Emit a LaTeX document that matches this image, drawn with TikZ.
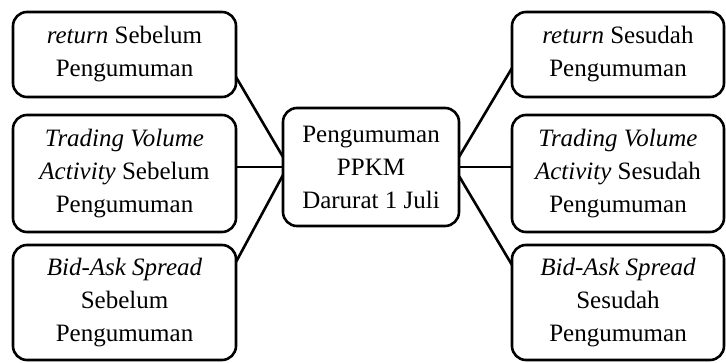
\documentclass[tikz,border=0pt]{standalone}
\usepackage{fontspec}
\setmainfont{Liberation Serif}
\usetikzlibrary{calc}
\begin{document}
\begin{tikzpicture}[x=1pt,y=-1pt,
  box/.style={draw=black, line width=2.6pt, rounded corners=14pt, align=center,
    inner sep=0pt, outer sep=0pt, font=\fontsize{25}{33}\selectfont},
  conn/.style={line width=2.6pt, draw=black}]
\useasboundingbox (0,0) rectangle (726,363);
\node[box, minimum width=223pt, minimum height=85pt] (L1) at (124.5,54.5) {\textit{return} Sebelum\\Pengumuman};
\node[box, minimum width=223pt, minimum height=117pt] (L2) at (124.5,173.5) {\textit{Trading Volume}\\\textit{Activity} Sebelum\\Pengumuman};
\node[box, minimum width=223pt, minimum height=115pt] (L3) at (124.5,302.5) {\textit{Bid-Ask Spread}\\Sebelum\\Pengumuman};
\node[box, minimum width=176pt, minimum height=118pt] (C) at (371,167) {Pengumuman\\PPKM\\Darurat 1 Juli};
\node[box, minimum width=212pt, minimum height=85pt] (R1) at (618,54.5) {\textit{return} Sesudah\\Pengumuman};
\node[box, minimum width=212pt, minimum height=117pt] (R2) at (618,173.5) {\textit{Trading Volume}\\\textit{Activity} Sesudah\\Pengumuman};
\node[box, minimum width=212pt, minimum height=115pt] (R3) at (618,302.5) {\textit{Bid-Ask Spread}\\Sesudah\\Pengumuman};
\draw[conn] ($(L1.south east)+(0,-20)$) -- ($(C.west)+(0,-10)$);
\draw[conn] (C.west -| L2.east) -- (C.west);
\draw[conn] ($(L3.north east)+(0,17)$) -- ($(C.west)+(0,8)$);
\draw[conn] ($(R1.south west)+(0,-29)$) -- ($(C.east)+(0,-10)$);
\draw[conn] (C.east -| R2.west) -- (C.east);
\draw[conn] ($(R3.north west)+(0,20)$) -- ($(C.east)+(0,9)$);
\end{tikzpicture}
\end{document}
